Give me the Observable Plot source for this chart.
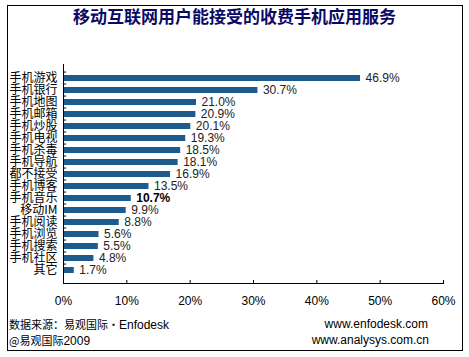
<!DOCTYPE html>
<html><head><meta charset="utf-8">
<script src="https://cdn.jsdelivr.net/npm/d3@7"></script>
<script src="https://cdn.jsdelivr.net/npm/@observablehq/plot@0.6"></script>
<style>
body{margin:0;background:#fff;}
#wrap{position:relative;width:469px;height:357px;overflow:hidden;font-family:"Liberation Sans",Arial,sans-serif;}
#frame{position:absolute;left:7px;top:5px;width:456px;height:346px;border:1px solid #000;box-sizing:border-box;}
#title{position:absolute;left:0;top:5px;width:469px;text-align:center;font-family:"Noto Sans CJK SC",sans-serif;font-weight:bold;font-size:17px;line-height:22px;color:#0a0a66;}
#chart{position:absolute;left:0;top:40px;}
.foot{position:absolute;font-size:11px;line-height:14px;color:#000;white-space:nowrap;}
.cjk{font-family:"Noto Sans CJK SC",sans-serif;}
.lat{font-family:"Liberation Sans",Arial,sans-serif;font-size:12px;}
</style></head><body>
<div id="wrap">
 <div id="frame"></div>
 <div id="title">移动互联网用户能接受的收费手机应用服务</div>
 <div id="chart"></div>
 <div class="foot" style="left:9px;top:317px"><span class="cjk">数据来源：易观国际·</span><span class="lat">Enfodesk</span></div>
 <div class="foot" style="left:9px;top:333px"><span class="cjk">@易观国际</span><span class="lat">2009</span></div>
 <div class="foot lat" style="right:41px;top:317px">www.enfodesk.com</div>
 <div class="foot lat" style="right:40px;top:333px">www.analysys.com.cn</div>
</div>
<script>
const categories = ["手机游戏","手机银行","手机地图","手机邮箱","手机炒股","手机电视","手机杀毒","手机导航","都不接受","手机博客","手机音乐","移动IM","手机阅读","手机浏览","手机搜索","手机社区","其它"];
const values = [46.9,30.7,21.0,20.9,20.1,19.3,18.5,18.1,16.9,13.5,10.7,9.9,8.8,5.6,5.5,4.8,1.7];
const xTicks = [0,10,20,30,40,50,60];
const highlight = "手机音乐";

const data = categories.map((c,i)=>({cat:c, value:values[i]}));
const fmt = d => d.value.toFixed(1) + "%";

const chart = Plot.plot({
  width:469, height:280,
  marginLeft:63, marginRight:26, marginTop:24, marginBottom:37,
  style:{fontFamily:'"Liberation Sans",Arial,sans-serif', fontSize:"12px", background:"transparent", color:"#000", overflow:"visible"},
  x:{domain:[0,60], axis:null, label:null},
  y:{domain:categories, paddingInner:0.5, paddingOuter:0.25, axis:null, label:null},
  marks:[
    Plot.barX(data,{x:"value", y:"cat", fill:"#1d5b8f"}),
    Plot.text(data.filter(d=>d.cat!==highlight),{x:"value", y:"cat", text:fmt, textAnchor:"start", dx:5, fill:"#222", fontSize:12}),
    Plot.text(data.filter(d=>d.cat===highlight),{x:"value", y:"cat", text:fmt, textAnchor:"start", dx:5, fill:"#000", fontSize:12, fontWeight:"bold"}),
    Plot.axisX({ticks:xTicks, tickFormat:d=>d+"%", tickSize:0, tickPadding:13, fontSize:12, fill:"#000", label:null}),
    Plot.axisX({ticks:xTicks, tickSize:-3, tickFormat:()=>"", label:null}),
    Plot.axisY({tickSize:0, tickPadding:6, fontFamily:'"Noto Sans CJK SC",sans-serif', fontSize:12, fill:"#000", label:null}),
    Plot.ruleY(categories,{y:d=>d, x1:0, x2:0.5, dy:-6.44, stroke:"#000"}),
    Plot.ruleX([0],{stroke:"#000"}),
    Plot.frame({anchor:"bottom", stroke:"#000"})
  ]
});
document.getElementById("chart").appendChild(chart);
</script>
</body></html>
